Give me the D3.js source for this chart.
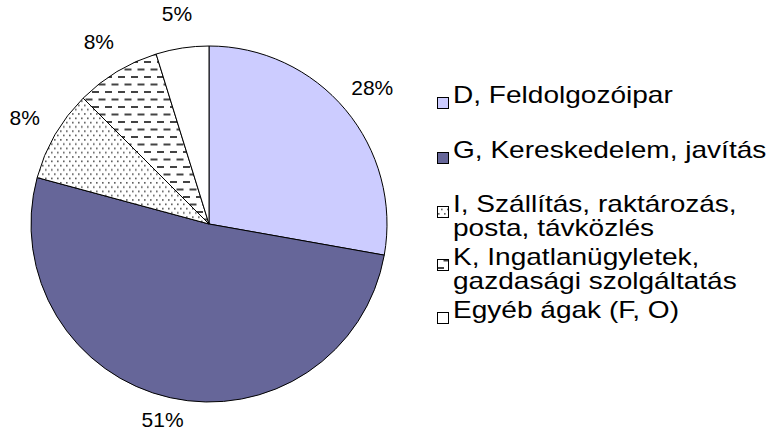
<!DOCTYPE html>
<html>
<head>
<meta charset="utf-8">
<script src="https://cdn.jsdelivr.net/npm/d3@7"></script>
<style>
  body { margin: 0; background: #fff; }
  svg { font-family: "Liberation Sans", Arial, sans-serif; }
</style>
</head>
<body>
<svg id="chart"></svg>
<script>
// Sector names (legend lines) and shares in percent
const categories = ["D", "G", "I", "K", "O"];
const legendLines = [
    ["D, Feldolgozóipar"],
    ["G, Kereskedelem, javítás"],
    ["I, Szállítás, raktározás,", "posta, távközlés"],
    ["K, Ingatlanügyletek,", "gazdasági szolgáltatás"],
    ["Egyéb ágak (F, O)"]
];
const shares = [27.8, 51.4, 8.3, 7.7, 4.8];
const fills = ["#ccccff", "#666699", "url(#dots)", "url(#dashes)", "#ffffff"];

const width = 784, height = 434;
const cx = 209, cy = 224, radius = 178;

const svg = d3.select("#chart")
    .attr("width", width)
    .attr("height", height);

// Patterns for the hatched slices
const defs = svg.append("defs");

const dots = defs.append("pattern")
    .attr("id", "dots")
    .attr("patternUnits", "userSpaceOnUse")
    .attr("width", 6)
    .attr("height", 8.6);
dots.append("rect").attr("width", 6).attr("height", 8.6).attr("fill", "#fff");
dots.append("rect").attr("x", 1).attr("y", 1).attr("width", 1.6).attr("height", 1.6).attr("fill", "#555");
dots.append("rect").attr("x", 4).attr("y", 5.3).attr("width", 1.6).attr("height", 1.6).attr("fill", "#555");

const dashes = defs.append("pattern")
    .attr("id", "dashes")
    .attr("patternUnits", "userSpaceOnUse")
    .attr("width", 13)
    .attr("height", 15);
dashes.append("rect").attr("width", 13).attr("height", 15).attr("fill", "#fff");
dashes.append("rect").attr("x", 0).attr("y", 2).attr("width", 7).attr("height", 2).attr("fill", "#444");
dashes.append("rect").attr("x", 6.5).attr("y", 9.5).attr("width", 7).attr("height", 2).attr("fill", "#444");
dashes.append("rect").attr("x", -6.5).attr("y", 9.5).attr("width", 7).attr("height", 2).attr("fill", "#444");

// Pie, clockwise from 12 o'clock in data order
const pie = d3.pie().sort(null).value(d => d);
const arcs = pie(shares);

const arc = d3.arc().innerRadius(0).outerRadius(radius);
const labelArc = d3.arc().innerRadius(213).outerRadius(213);

const g = svg.append("g")
    .attr("transform", "translate(" + cx + "," + cy + ")");

g.selectAll("path")
    .data(arcs)
    .enter()
    .append("path")
    .attr("d", arc)
    .attr("fill", (d, i) => fills[i])
    .attr("stroke", "#000")
    .attr("stroke-width", 1);

// Percent labels outside the rim, kept inside the picture
g.selectAll("text.pct")
    .data(arcs)
    .enter()
    .append("text")
    .attr("class", "pct")
    .attr("transform", d => {
        const [x, y] = labelArc.centroid(d);
        return "translate(" + x + "," + Math.min(y, height - cy - 14) + ")";
    })
    .attr("text-anchor", "middle")
    .attr("dy", "0.35em")
    .style("font-size", "21px")
    .attr("fill", "#000")
    .text(d => Math.round(d.value) + "%");

// Legend (text in the original is drawn a bit wide)
const legendY = [103, 158, 212, 265, 318];
const stretch = 1.22;
const legend = svg.append("g");

const items = legend.selectAll("g")
    .data(categories)
    .enter()
    .append("g")
    .attr("transform", (d, i) => "translate(437," + legendY[i] + ")");

items.append("rect")
    .attr("x", 0.5)
    .attr("y", -5.5)
    .attr("width", 11)
    .attr("height", 11)
    .attr("fill", (d, i) => fills[i])
    .attr("stroke", "#000")
    .attr("stroke-width", 1);

items.append("text")
    .attr("transform", "translate(16,0) scale(" + stretch + ",1)")
    .attr("dy", "0.35em")
    .style("font-size", "23px")
    .attr("fill", "#000")
    .selectAll("tspan")
    .data((d, i) => legendLines[i])
    .enter()
    .append("tspan")
    .attr("x", 0)
    .attr("dy", (d, j) => j === 0 ? 0 : "1.05em")
    .text(d => d);
</script>
</body>
</html>
